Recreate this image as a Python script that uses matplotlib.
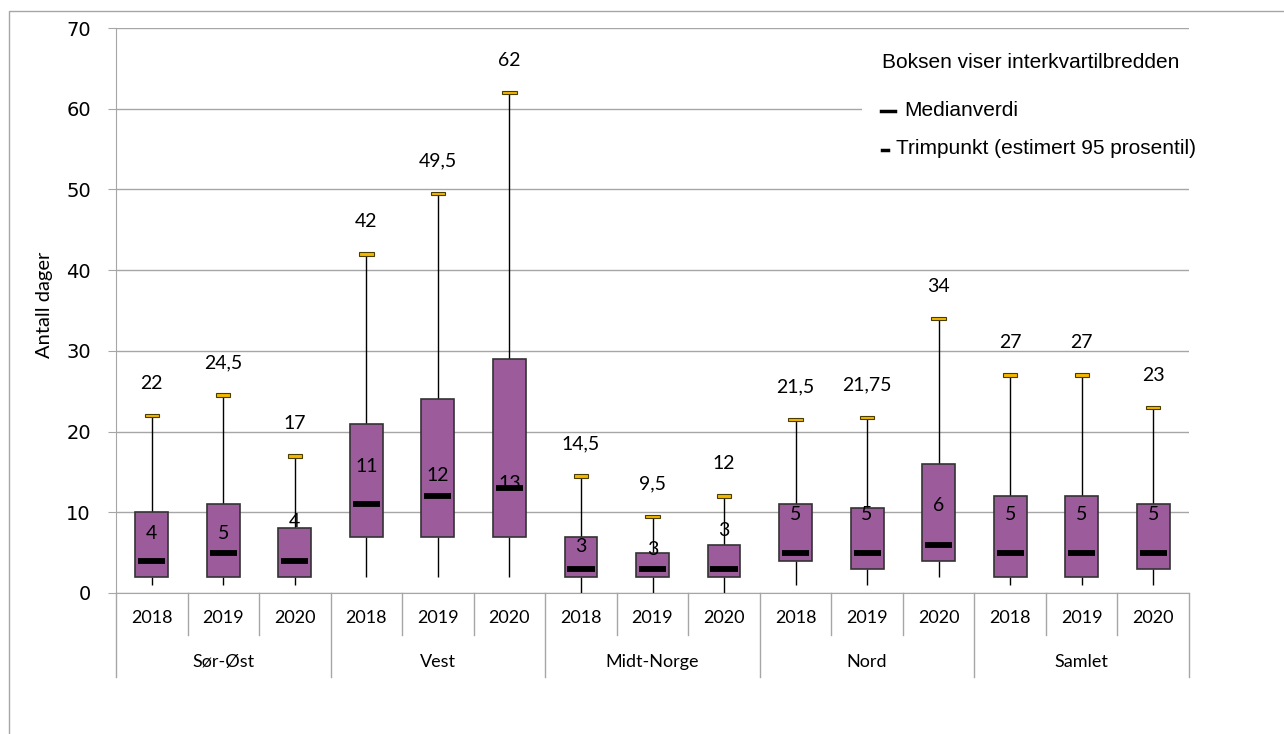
import matplotlib
matplotlib.use('Agg')
import matplotlib.pyplot as plt
from matplotlib.patches import Rectangle
from matplotlib.lines import Line2D
import matplotlib.transforms as mtransforms

# data
regions = ['Sør-Øst', 'Vest', 'Midt-Norge', 'Nord', 'Samlet']
years = ['2018', '2019', '2020']
q1 = [2, 2, 2, 7, 7, 7, 2, 2, 2, 4, 3, 4, 2, 2, 3]
q3 = [10, 11, 8, 21, 24, 29, 7, 5, 6, 11, 10.5, 16, 12, 12, 11]
median = [4, 5, 4, 11, 12, 13, 3, 3, 3, 5, 5, 6, 5, 5, 5]
minimum = [1, 1, 1, 2, 2, 2, 0, 0, 0, 1, 1, 2, 1, 1, 1]
trim = [22, 24.5, 17, 42, 49.5, 62, 14.5, 9.5, 12, 21.5, 21.75, 34, 27, 27, 23]

# label offsets above median (layout only)
med_lbl_off = [3.4, 2.4, 4.8, 4.7, 2.6, 0.6, 2.7, 2.4, 4.8, 4.7, 4.7, 4.8, 4.7, 4.7, 4.7]

plt.rcParams['font.family'] = ['Lato', 'DejaVu Sans']

W, H = 1284, 734
fig = plt.figure(figsize=(W / 100, H / 100), dpi=100)
ax = fig.add_axes([116 / W, 1 - 593 / H, (1189 - 116) / W, (593 - 28) / H])

grid_c = '#a6a6a6'
box_c = '#9c5c9c'
n = len(median)
x = [i + 0.5 for i in range(n)]

ax.set_xlim(0, n)
ax.set_ylim(0, 70)
ax.set_yticks(range(0, 71, 10))
ax.yaxis.grid(True, color=grid_c, linewidth=1)
ax.set_axisbelow(True)
ax.set_xticks([])
for s in ['top', 'right']:
    ax.spines[s].set_visible(False)
for s in ['left', 'bottom']:
    ax.spines[s].set_color(grid_c)
ax.tick_params(axis='y', length=6, color=grid_c, pad=12, labelsize=14)
for lbl in ax.get_yticklabels():
    lbl.set_family('DejaVu Sans')

# whiskers
ax.vlines(x, minimum, q1, color='black', linewidth=1, zorder=2)
ax.vlines(x, q3, trim, color='black', linewidth=1, zorder=2)
# boxes
ax.bar(x, [b - a for a, b in zip(q1, q3)], bottom=q1, width=0.46,
       color=box_c, edgecolor='#333333', linewidth=1.2, zorder=3)
# medians
ax.hlines(median, [v - 0.19 for v in x], [v + 0.19 for v in x],
          color='black', linewidth=4.2, zorder=4)
# trim points
ax.bar(x, 0.45, bottom=[t - 0.225 for t in trim], width=0.2,
       color='#f5b800', edgecolor='#4a3d00', linewidth=0.8, zorder=4)


def fmt(v):
    s = ('%g' % v)
    return s.replace('.', ',')


for i in range(n):
    ax.text(x[i], trim[i] + 4, fmt(trim[i]), ha='center', va='center',
            fontsize=14, zorder=5)
    ax.text(x[i], median[i] + med_lbl_off[i], fmt(median[i]), ha='center',
            va='center', fontsize=14, zorder=5)

# category axis
trans = mtransforms.blended_transform_factory(ax.transData, ax.transAxes)
ah = 593 - 28
for i in range(n + 1):
    long = (i % 3 == 0)
    y1 = -(677 - 593) / ah if long else -(635 - 593) / ah
    ax.add_line(Line2D([i, i], [0, y1], transform=trans, color=grid_c,
                       linewidth=1, clip_on=False))
for i in range(n):
    ax.text(x[i], -(618 - 593) / ah, years[i % 3], transform=trans,
            ha='center', va='center', fontsize=13)
for g, r in enumerate(regions):
    ax.text(3 * g + 1.5, -(662 - 593) / ah, r, transform=trans,
            ha='center', va='center', fontsize=13)

fig.text(45 / W, 1 - 305 / H, 'Antall dager', rotation=90, ha='center',
         va='center', fontsize=14.5)

# legend area
fig.patches.append(Rectangle((862 / W, 1 - 180 / H), 340 / W, 148 / H,
                             transform=fig.transFigure, facecolor='white',
                             edgecolor='none', zorder=1))
leg_font = dict(family='Liberation Sans', fontsize=15, va='center', ha='left')
fig.text(882 / W, 1 - 63 / H, 'Boksen viser interkvartilbredden', **leg_font)
fig.text(904 / W, 1 - 110 / H, 'Medianverdi', **leg_font)
fig.text(896 / W, 1 - 149 / H, 'Trimpunkt (estimert 95 prosentil)', **leg_font)
fig.lines.append(Line2D([881 / W, 895 / W], [1 - 111 / H, 1 - 111 / H],
                        transform=fig.transFigure, color='black',
                        linewidth=2.5, zorder=3))
fig.lines.append(Line2D([882 / W, 888 / W], [1 - 150 / H, 1 - 150 / H],
                        transform=fig.transFigure, color='black',
                        linewidth=2.5, zorder=3))

# outer frame
fig.patches.append(Rectangle((9 / W, -0.05), 1.1, 1 - 11 / H + 0.05,
                             transform=fig.transFigure, facecolor='none',
                             edgecolor=grid_c, linewidth=1, zorder=0))

fig.savefig('out.png', dpi=100)
